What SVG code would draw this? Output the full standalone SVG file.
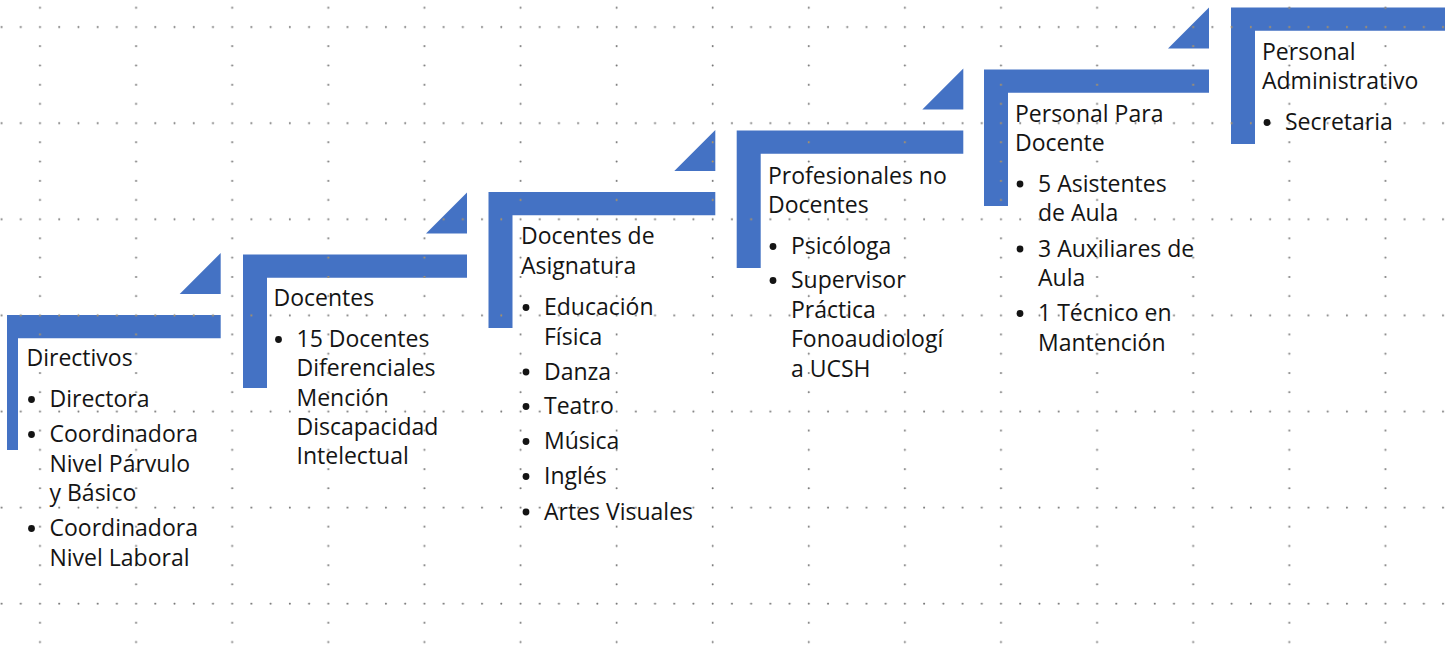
<svg xmlns="http://www.w3.org/2000/svg" xmlns:xlink="http://www.w3.org/1999/xlink" width="1453" height="646" viewBox="0 0 1453 646">
<style>
  .t { font-family: "Open Sans", "Noto Sans", "Liberation Sans", sans-serif; font-size: 23px; fill: #141414; }
  .b { fill: #141414; }
</style>
<defs>
  <pattern id="dots" patternUnits="userSpaceOnUse" x="30.4" y="17.4" width="96.1" height="96.1">
    <g fill="#707070">
      <circle cx="9.6" cy="9.6" r="1"/>
      <circle cx="28.82" cy="9.6" r="1"/>
      <circle cx="48.04" cy="9.6" r="1"/>
      <circle cx="67.26" cy="9.6" r="1"/>
      <circle cx="86.48" cy="9.6" r="1"/>
      <circle cx="9.6" cy="28.82" r="1"/>
      <circle cx="9.6" cy="48.04" r="1"/>
      <circle cx="9.6" cy="67.26" r="1"/>
      <circle cx="9.6" cy="86.48" r="1"/>
    </g>
  </pattern>
  <pattern id="dotsTan" patternUnits="userSpaceOnUse" x="30.4" y="17.4" width="96.1" height="96.1">
    <g fill="#b8965a">
      <circle cx="9.6" cy="9.6" r="1"/>
      <circle cx="28.82" cy="9.6" r="1"/>
      <circle cx="48.04" cy="9.6" r="1"/>
      <circle cx="67.26" cy="9.6" r="1"/>
      <circle cx="86.48" cy="9.6" r="1"/>
      <circle cx="9.6" cy="28.82" r="1"/>
      <circle cx="9.6" cy="48.04" r="1"/>
      <circle cx="9.6" cy="67.26" r="1"/>
      <circle cx="9.6" cy="86.48" r="1"/>
    </g>
  </pattern>
</defs>
<rect width="1453" height="646" fill="#ffffff"/>
<rect width="1453" height="646" fill="url(#dots)"/>

<g id="connectors"></g>

<g id="node-directivos">
  <g fill="#4472C4">
    <path id="s0" d="M7 315 H220.7 V338.3 H18 V450 H7 Z"/>
    <path id="a0" d="M179.7 294 H220.7 V253 Z"/>
  </g>
  <text class="t" x="26.5" y="366">Directivos</text>
  <circle class="b" cx="31.5" cy="399.5" r="3.4"/>
  <text class="t" x="49.5" y="407">Directora</text>
  <circle class="b" cx="31.5" cy="434.5" r="3.4"/>
  <text class="t" x="49.5" y="442">Coordinadora</text>
  <text class="t" x="49.5" y="471.5">Nivel Párvulo</text>
  <text class="t" x="49.5" y="501">y Básico</text>
  <circle class="b" cx="31.5" cy="528.5" r="3.4"/>
  <text class="t" x="49.5" y="536">Coordinadora</text>
  <text class="t" x="49.5" y="565.5">Nivel Laboral</text>
</g>

<g id="node-docentes">
  <g fill="#4472C4">
    <path id="s1" d="M243 254.5 H467 V277.8 H267 V388 H243 Z"/>
    <path id="a1" d="M426 233.5 H467 V192.5 Z"/>
  </g>
  <text class="t" x="273.5" y="306">Docentes</text>
  <circle class="b" cx="278.5" cy="339.5" r="3.4"/>
  <text class="t" x="296.5" y="347">15 Docentes</text>
  <text class="t" x="296.5" y="376.3">Diferenciales</text>
  <text class="t" x="296.5" y="405.6">Mención</text>
  <text class="t" x="296.5" y="434.9">Discapacidad</text>
  <text class="t" x="296.5" y="464.2">Intelectual</text>
</g>

<g id="node-asignatura">
  <g fill="#4472C4">
    <path id="s2" d="M488.5 192 H715.3 V215.3 H512.5 V328 H488.5 Z"/>
    <path id="a2" d="M674.3 171 H715.3 V130 Z"/>
  </g>
  <text class="t" x="521" y="244">Docentes de</text>
  <text class="t" x="521" y="273.5">Asignatura</text>
  <circle class="b" cx="526" cy="307.5" r="3.4"/>
  <text class="t" x="544" y="315">Educación</text>
  <text class="t" x="544" y="344.5">Física</text>
  <circle class="b" cx="526" cy="372" r="3.4"/>
  <text class="t" x="544" y="379.5">Danza</text>
  <circle class="b" cx="526" cy="406.5" r="3.4"/>
  <text class="t" x="544" y="414">Teatro</text>
  <circle class="b" cx="526" cy="441.5" r="3.4"/>
  <text class="t" x="544" y="449">Música</text>
  <circle class="b" cx="526" cy="476.5" r="3.4"/>
  <text class="t" x="544" y="484">Inglés</text>
  <circle class="b" cx="526" cy="512" r="3.4"/>
  <text class="t" x="544" y="519.5">Artes Visuales</text>
</g>

<g id="node-profesionales">
  <g fill="#4472C4">
    <path id="s3" d="M736.7 130.5 H963.3 V153.8 H760.7 V268 H736.7 Z"/>
    <path id="a3" d="M922.3 109.5 H963.3 V68.5 Z"/>
  </g>
  <text class="t" x="768" y="183.5">Profesionales no</text>
  <text class="t" x="768" y="213">Docentes</text>
  <circle class="b" cx="773" cy="246.5" r="3.4"/>
  <text class="t" x="791" y="254">Psicóloga</text>
  <circle class="b" cx="773" cy="280.5" r="3.4"/>
  <text class="t" x="791" y="288">Supervisor</text>
  <text class="t" x="791" y="317.5">Práctica</text>
  <text class="t" x="791" y="347">Fonoaudiologí</text>
  <text class="t" x="791" y="376.5">a UCSH</text>
</g>

<g id="node-paradocente">
  <g fill="#4472C4">
    <path id="s4" d="M984 69.5 H1209 V92.8 H1008 V206 H984 Z"/>
    <path id="a4" d="M1168 48.5 H1209 V7.5 Z"/>
  </g>
  <text class="t" x="1015" y="121.5">Personal Para</text>
  <text class="t" x="1015" y="151">Docente</text>
  <circle class="b" cx="1020" cy="184" r="3.4"/>
  <text class="t" x="1038" y="191.5">5 Asistentes</text>
  <text class="t" x="1038" y="221">de Aula</text>
  <circle class="b" cx="1020" cy="249" r="3.4"/>
  <text class="t" x="1038" y="256.5">3 Auxiliares de</text>
  <text class="t" x="1038" y="286">Aula</text>
  <circle class="b" cx="1020" cy="313.5" r="3.4"/>
  <text class="t" x="1038" y="321">1 Técnico en</text>
  <text class="t" x="1038" y="350.5">Mantención</text>
</g>

<g id="node-administrativo">
  <g fill="#4472C4">
    <path id="s5" d="M1231 7.5 H1445 V30.8 H1255 V144 H1231 Z"/>
  </g>
  <text class="t" x="1262" y="59.5">Personal</text>
  <text class="t" x="1262" y="89">Administrativo</text>
  <circle class="b" cx="1267" cy="122.5" r="3.4"/>
  <text class="t" x="1285" y="130">Secretaria</text>
</g>

<g id="grid-over-shapes" fill="url(#dotsTan)">
  <use xlink:href="#s0"/><use xlink:href="#a0"/>
  <use xlink:href="#s1"/><use xlink:href="#a1"/>
  <use xlink:href="#s2"/><use xlink:href="#a2"/>
  <use xlink:href="#s3"/><use xlink:href="#a3"/>
  <use xlink:href="#s4"/><use xlink:href="#a4"/>
  <use xlink:href="#s5"/>
</g>
</svg>
